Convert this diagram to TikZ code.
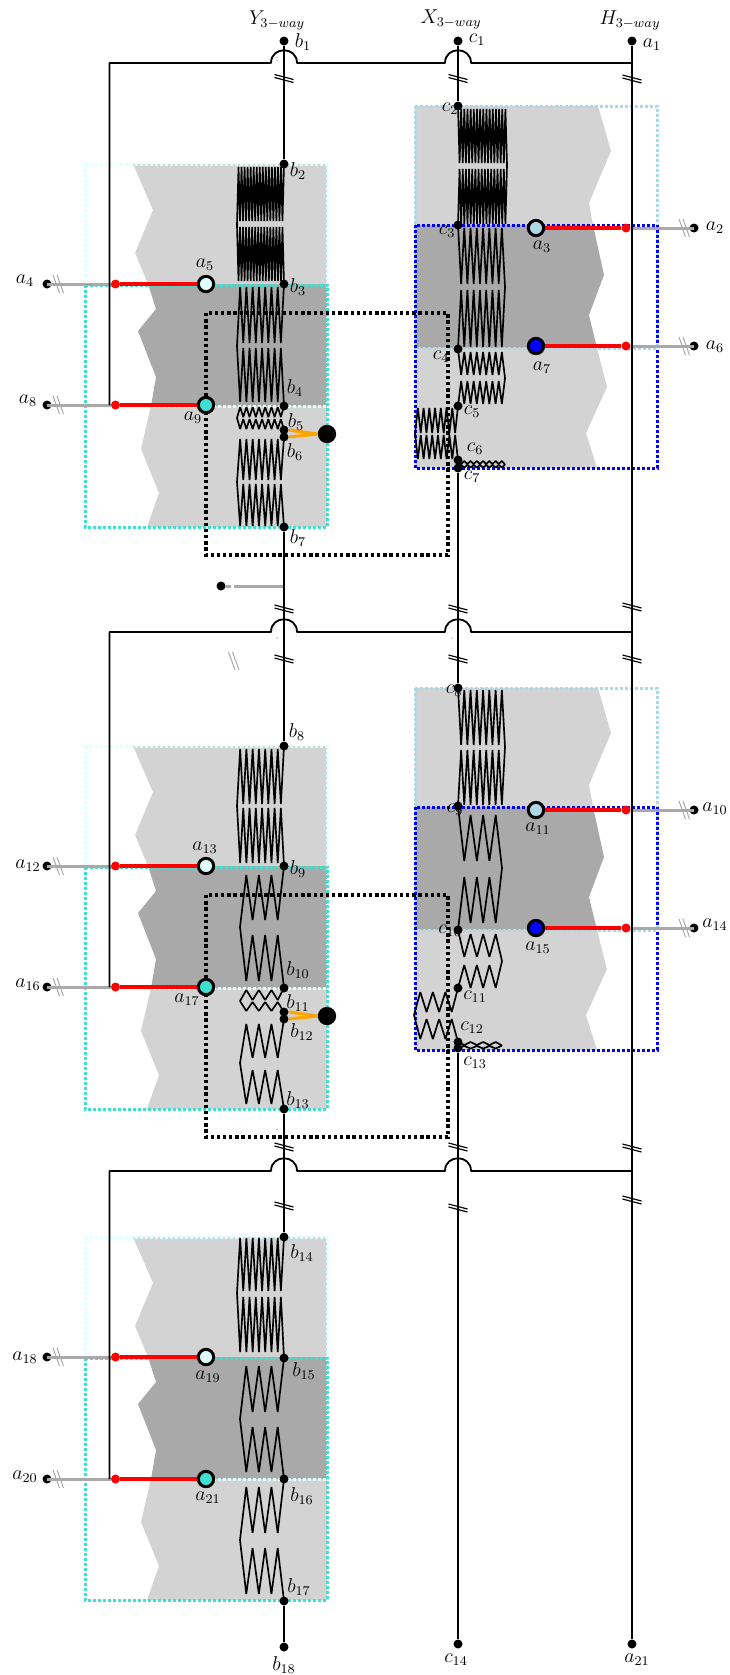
\documentclass[tikz,border=0pt]{standalone}
\usepackage{amsmath,amssymb}
\usetikzlibrary{positioning}
\definecolor{lightcyan}{HTML}{E0FFFF}
\definecolor{turquoise}{HTML}{40E0D0}
\definecolor{lightblue}{HTML}{ADD8E6}
\definecolor{lightgrey}{HTML}{D3D3D3}
\definecolor{darkgrey}{HTML}{A9A9A9}
\definecolor{wireorange}{HTML}{FFA500}
\tikzset{
  raildot/.style={circle, fill=black, inner sep=0pt, minimum size=5.4pt},
  bigdot/.style={circle, fill=black, inner sep=0pt, minimum size=11pt},
  tapdot/.style={circle, fill=red, inner sep=0pt, minimum size=5.4pt},
  ringdot/.style={circle, draw=black, line width=1.8pt, inner sep=0pt, minimum size=9.2pt},
  speck/.style={circle, fill=black, inner sep=0pt, minimum size=0.6pt},
  railwire/.style={line width=1.1pt, line join=round},
  zigwire/.style={line width=1pt, line join=bevel},
  redwire/.style={red, line width=2pt},
  greywire/.style={darkgrey, line width=1.8pt},
  orangewire/.style={wireorange, line width=1.9pt},
  breakmark/.style={line width=0.7pt},
  greybreak/.style={darkgrey, line width=0.6pt},
  zonebox/.style={line width=1.8pt, dash pattern=on 1.8pt off 1.2pt},
  blackbox/.style={black, line width=1.9pt, dash pattern=on 2pt off 1.7pt},
  tagtext/.style={inner sep=0pt, font=\large}
}
\begin{document}
\begin{tikzpicture}[x=0.6pt, y=-0.6pt]
\useasboundingbox (0,0) rectangle (730,1675);
% shaded bands and dotted zones
\foreach \off in {0,582,1073} {
\begin{scope}[shift={(0,\off)}]
\fill[lightgrey] (133,164) -- (153,210) -- (135,253) -- (148,284) -- (327,284) -- (327,164) -- cycle;
\fill[darkgrey] (148,284) -- (156,309) -- (138,331) -- (156,377) -- (151,406) -- (327,406) -- (327,284) -- cycle;
\fill[lightgrey] (151,406) -- (141,449) -- (159,493) -- (147,527) -- (327,527) -- (327,406) -- cycle;
\draw[zonebox, lightcyan] (85,164) rectangle (327,406);
\draw[zonebox, turquoise] (85,285) rectangle (327,527);
\end{scope}
}
\foreach \off in {0,582} {
\begin{scope}[shift={(0,\off)}]
\fill[lightgrey] (415,106) -- (598,106) -- (611,151) -- (589,203) -- (593,225) -- (415,225) -- cycle;
\fill[darkgrey] (415,225) -- (593,225) -- (604,275) -- (589,315) -- (597,348) -- (415,348) -- cycle;
\fill[lightgrey] (415,348) -- (597,348) -- (607,387) -- (586,433) -- (597,468) -- (415,468) -- cycle;
\draw[zonebox, lightblue] (415,106) rectangle (657,348);
\draw[zonebox, blue] (415,225) rectangle (657,468);
\draw[blackbox] (206,313) rectangle (448,555);
\end{scope}
}
% rail dots
\foreach \name/\x/\y in {b1/284/41, b2/284/164, b3/284/284, b4/284/406, b5/284/430, b6/284/437, b7/284/527,
  b8/284/746, b9/284/866, b10/284/988, b11/284/1012, b12/284/1019, b13/284/1109,
  b14/284/1237, b15/284/1358, b16/284/1479, b17/284/1601, b18/284/1647,
  c1/458/41, c2/458/106, c3/458/225, c4/458/349, c5/458/406, c6/458/460, c7/458/468,
  c8/458/688, c9/458/806, c10/458/930, c11/458/988, c12/458/1042, c13/458/1048, c14/458/1644,
  a1/632/41, a22/632/1644}
  \node[raildot] (\name) at (\x,\y) {};
% the unnamed tap above the second row
\node[raildot] (stub) at (221,586) {};
\coordinate (stubL) at (231,586);
\coordinate (stubR) at (234,586);
\coordinate (stubT) at (284,586);
\draw[greywire] (stub) -- (stubL);
\draw[greywire] (stubR) -- (stubT);
\draw[greybreak] (228.5,652) -- (235,670);
\draw[greybreak] (232.5,652) -- (239,670);
% line ends with ring, tap and break
\foreach \tip/\ring/\col/\xtip/\xbrk/\xtap/\xring/\y in {
  a4/a5/lightcyan/47/58/115.5/206/284, a8/a9/turquoise/47/58/115.5/206/405,
  a12/a13/lightcyan/47/58/115.5/206/866, a16/a17/turquoise/47/58/115.5/206/987,
  a18/a19/lightcyan/47/58/115.5/206/1357, a20/a21/turquoise/47/58/115.5/206/1479,
  a2/a3/lightblue/694/684/626/536/228, a6/a7/blue/694/684/626/536/346,
  a10/a11/lightblue/694/684/626/536/810, a14/a15/blue/694/684/626/536/928} {
  \node[raildot] (\tip) at (\xtip,\y) {};
  \node[tapdot] (tap\ring) at (\xtap,\y) {};
  \node[ringdot, fill=\col] (\ring) at (\xring,\y) {};
  \draw[greywire] (\tip.center) -- (tap\ring);
  \draw[redwire] (tap\ring) -- (\ring);
  \draw[greybreak] (\xbrk-5,\y-9) -- (\xbrk+1.5,\y+9);
  \draw[greybreak] (\xbrk-1,\y-9) -- (\xbrk+5.5,\y+9);
}
% orange stubs
\node[bigdot] (bigA) at (327,434) {};
\node[bigdot] (bigB) at (327,1016) {};
\draw[orangewire] (b5.east) -- (bigA.west);
\draw[orangewire] (b6.east) -- (bigA.west);
\draw[orangewire] (b11.east) -- (bigB.west);
\draw[orangewire] (b12.east) -- (bigB.west);
% rails
\foreach \from/\upto in {b1/b2, b7/b8, b13/b14, b17/b18, c1/c2, c7/c8, c13/c14, a1/a22}
  \draw[railwire] (\from) -- (\upto);
% cross lines with hops
\foreach \row/\y/\ylow in {1/63/405, 2/632/987, 3/1171/1479} {
  \coordinate (low\row) at (109.5,\ylow);
  \coordinate (top\row) at (109.5,\y);
  \coordinate (hopY\row) at (271,\y);
  \coordinate (hopX\row) at (445,\y);
  \coordinate (end\row) at (632,\y);
  \draw[railwire] (low\row) -- (top\row) -- (hopY\row)
    .. controls (271,\y-17) and (297,\y-17) .. (297,\y) -- (hopX\row)
    .. controls (445,\y-17) and (471,\y-17) .. (471,\y) -- (end\row);
}
% breaks on the rails
\foreach \x/\y in {284/78.5, 458/78.5, 632/79, 284/609, 458/609, 632/607, 284/659, 458/659, 632/659,
  284/1147, 458/1147, 632/1148, 284/1206, 458/1208, 632/1200} {
  \draw[breakmark] (\x-9.5,\y-4) -- (\x+9.5,\y+1);
  \draw[breakmark] (\x-9.5,\y-1) -- (\x+9.5,\y+4);
}
% specks
\foreach \i/\x/\y in {1/277/57, 2/277/60, 3/277/638, 4/452/638, 5/277/1129}
  \node[speck] (speck\i) at (\x,\y) {};
% zigzag banks
\foreach \fromdot/\todot/\xa/\xb/\teeth/\ya/\yb/\ym/\yc/\yd in {
  b2/b3/284/237/15/167/221/225/227/281,
  b3/b4/284/237/7/287/343/346/348/402,
  b4/b5/284/237/7/407/417/418/419/429,
  b6/b7/284/237/7/439/480/482/484/526,
  b8/b9/284/237/7/749/804/806/808/863,
  b9/b10/284/240/3/875/920/927/935/981,
  b10/b11/284/240/3/990/1000/1001/1002/1011,
  b12/b13/284/240/3/1024/1058/1063/1070/1104,
  b14/b15/284/237/7/1238/1291/1293/1297/1352,
  b15/b16/284/240/3/1366/1412/1419/1427/1472,
  b16/b17/284/240/3/1487/1533/1540/1548/1594,
  c2/c3/458/507/15/109/163/165/169/224,
  c3/c4/458/505/7/228/284/287/290/347,
  c4/c5/458/505/7/352/375/378/381/404,
  c5/c6/458/415/7/408/433/434/435/459,
  c6/c7/458/505/7/461/464/464.5/465/467.5,
  c8/c9/458/505/7/690/745/747/750/805,
  c9/c10/458/502/3/815/861/868/877/923,
  c10/c11/458/502/3/934/957/961/965/988,
  c11/c12/458/414/3/992/1012/1015/1019/1039,
  c12/c13/458/502/3/1042/1045/1045.5/1046/1048.5} {
  \pgfmathsetmacro\dx{(\xb-\xa)/(2*\teeth+1)}
  \pgfmathtruncatemacro\last{2*\teeth}
  \gdef\rowone{}
  \gdef\rowtwo{}
  \foreach \i in {1,...,\last} {
    \pgfmathsetmacro\px{\xa+\i*\dx}
    \pgfmathtruncatemacro\isodd{mod(\i,2)}
    \ifnum\isodd=1
      \xdef\rowone{\rowone -- (\px,\yb)}
      \xdef\rowtwo{-- (\px,\yc) \rowtwo}
    \else
      \xdef\rowone{\rowone -- (\px,\ya)}
      \xdef\rowtwo{-- (\px,\yd) \rowtwo}
    \fi
  }
  \draw[zigwire] (\fromdot.center) \rowone -- (\xb,\ym) \rowtwo -- (\todot.center);
}
% labels
\foreach \name/\x/\y/\txt in {
  tY/277/20/Y_{3-way}, tX/451/19/X_{3-way}, tH/630/20/H_{3-way},
  tb1/303/42/b_1, tc1/477/40/c_1, ta1/652/45/a_1,
  tb2/298/171/b_2, tb3/298/287/b_3, tb4/295/388/b_4, tb5/296/422/b_5, tb6/295/452/b_6, tb7/298/538/b_7,
  tb8/297/732/b_8, tb9/298/869/b_9, tb10/298/970/b_{10}, tb11/298/1003/b_{11}, tb12/302/1032/b_{12}, tb13/298/1100/b_{13},
  tb14/302/1253/b_{14}, tb15/304/1371/b_{15}, tb16/302/1496/b_{16}, tb17/299/1587/b_{17}, tb18/284/1665/b_{18},
  tc2/450/109/c_2, tc3/447/232/c_3, tc4/441/357/c_4, tc5/472/412/c_5, tc6/475/449/c_6, tc7/472/477/c_7,
  tc8/454/691/c_8, tc9/455/810/c_9, tc10/450/931/c_{10}, tc11/475/997/c_{11}, tc12/472/1028/c_{12}, tc13/475/1063/c_{13}, tc14/456/1660/c_{14},
  ta2/715/228/a_2, ta3/542/247/a_3, ta4/25/281/a_4, ta5/205/265/a_5, ta6/715/347/a_6, ta7/542/368/a_7,
  ta8/28/401/a_8, ta9/193/418/a_9, ta10/715/809/a_{10}, ta11/538/829/a_{11}, ta12/28/866/a_{12}, ta13/205/848/a_{13},
  ta14/715/925/a_{14}, ta15/538/948/a_{15}, ta16/28/985/a_{16}, ta17/187/1000/a_{17},
  ta18/25/1358/a_{18}, ta19/208/1377/a_{19}, ta20/25/1477/a_{20}, ta21/208/1498/a_{21}, ta22/637/1660/a_{21}}
  \node[tagtext] (\name) at (\x,\y) {$\txt$};
\end{tikzpicture}
\end{document}
